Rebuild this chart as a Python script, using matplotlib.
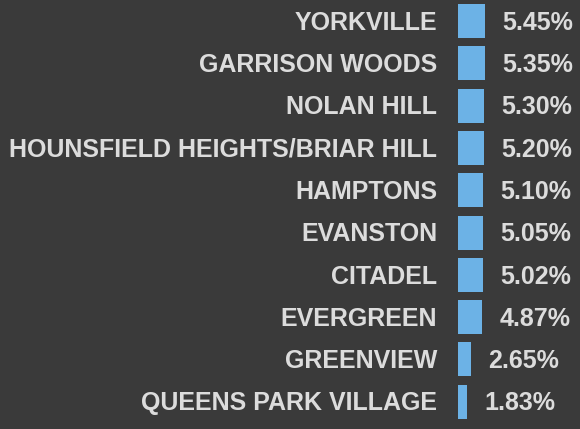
import matplotlib
matplotlib.use("Agg")
import matplotlib.pyplot as plt

categories = ["YORKVILLE", "GARRISON WOODS", "NOLAN HILL", "HOUNSFIELD HEIGHTS/BRIAR HILL",
              "HAMPTONS", "EVANSTON", "CITADEL", "EVERGREEN", "GREENVIEW", "QUEENS PARK VILLAGE"]
values = [5.45, 5.35, 5.30, 5.20, 5.10, 5.05, 5.02, 4.87, 2.65, 1.83]
value_labels = ["5.45%", "5.35%", "5.30%", "5.20%", "5.10%", "5.05%", "5.02%", "4.87%", "2.65%", "1.83%"]

BG = "#3a3a3a"
TXT = "#dcdcdc"
BAR = "#6cb2e6"
DPI = 100
W, H = 580, 429

fig = plt.figure(figsize=(W / DPI, H / DPI), dpi=DPI, facecolor=BG)
left_px = 457.5
ppu = 5.05  # pixels per percent
ax = fig.add_axes([left_px / W, 0, 1 - left_px / W, 1])
ax.set_facecolor(BG)
ax.set_xlim(0, (W - left_px) / ppu)
row = 42.3
ymin = -21 / row
ax.set_ylim(ymin + H / row, ymin)
ax.axis("off")

ys = list(range(len(categories)))
ax.barh(ys, values, height=34 / row, color=BAR, edgecolor="none")

font = dict(family=["Liberation Sans", "DejaVu Sans"], fontweight="bold", fontsize=18, color=TXT)
px2pt = 72 / DPI
for y, cat, v, lab in zip(ys, categories, values, value_labels):
    ax.annotate(cat, xy=(0, y), xytext=(-20.5 * px2pt, -8.7 * px2pt), textcoords="offset points",
                ha="right", va="baseline", annotation_clip=False, **font)
    ax.annotate(lab, xy=(v, y), xytext=(17.5 * px2pt, -8.7 * px2pt), textcoords="offset points",
                ha="left", va="baseline", annotation_clip=False, **font)

fig.savefig("out.png", dpi=DPI, facecolor=BG)
